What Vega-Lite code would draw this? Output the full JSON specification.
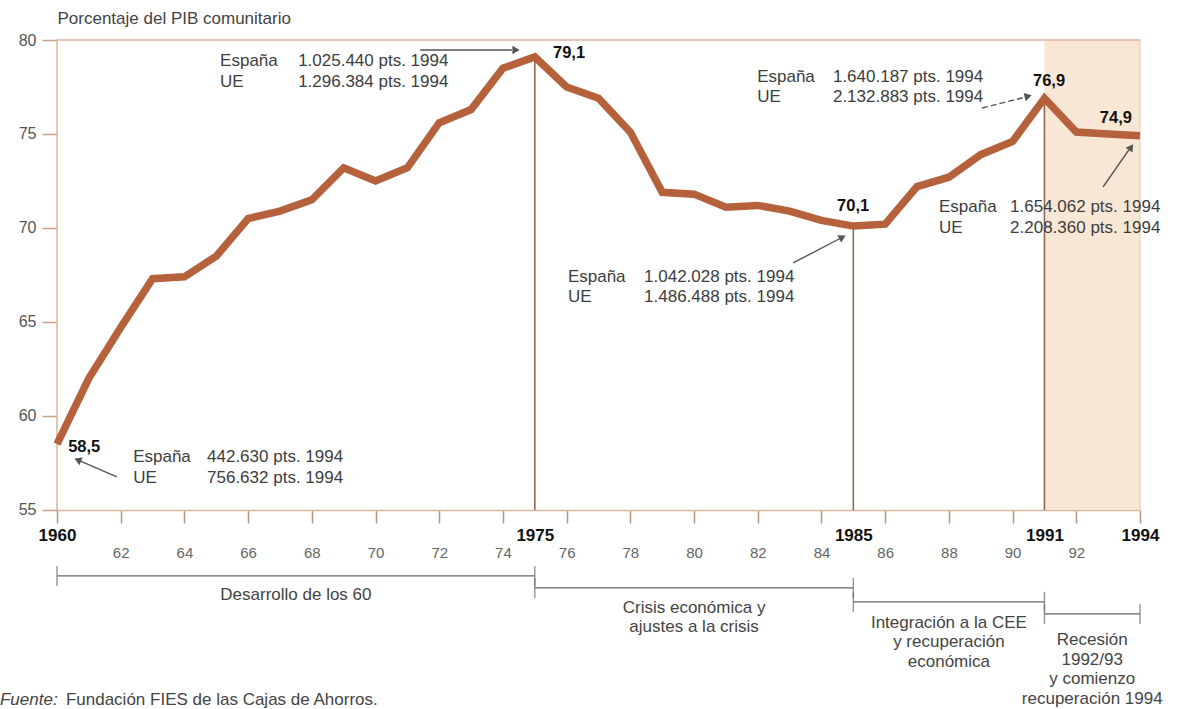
{
  "$schema": "https://vega.github.io/schema/vega-lite/v6.json",
  "width": 1083,
  "height": 669,
  "autosize": {"type": "none"},
  "padding": {"left": 57, "top": 40, "right": 38, "bottom": 0},
  "background": "white",
  "config": {
    "view": {"stroke": null},
    "axis": {"grid": false},
    "font": "Liberation Sans"
  },
  "datasets": {
    "series": [
      {"year": 1960, "value": 58.5}, {"year": 1961, "value": 62.0}, {"year": 1962, "value": 64.7},
      {"year": 1963, "value": 67.3}, {"year": 1964, "value": 67.4}, {"year": 1965, "value": 68.5},
      {"year": 1966, "value": 70.5}, {"year": 1967, "value": 70.9}, {"year": 1968, "value": 71.5},
      {"year": 1969, "value": 73.2}, {"year": 1970, "value": 72.5}, {"year": 1971, "value": 73.2},
      {"year": 1972, "value": 75.6}, {"year": 1973, "value": 76.3}, {"year": 1974, "value": 78.5},
      {"year": 1975, "value": 79.1}, {"year": 1976, "value": 77.5}, {"year": 1977, "value": 76.9},
      {"year": 1978, "value": 75.1}, {"year": 1979, "value": 71.9}, {"year": 1980, "value": 71.8},
      {"year": 1981, "value": 71.1}, {"year": 1982, "value": 71.2}, {"year": 1983, "value": 70.9},
      {"year": 1984, "value": 70.4}, {"year": 1985, "value": 70.1}, {"year": 1986, "value": 70.2},
      {"year": 1987, "value": 72.2}, {"year": 1988, "value": 72.7}, {"year": 1989, "value": 73.9},
      {"year": 1990, "value": 74.6}, {"year": 1991, "value": 76.9}, {"year": 1992, "value": 75.1},
      {"year": 1993, "value": 75.0}, {"year": 1994, "value": 74.9}
    ],
    "shade": [{"year": 1991, "year2": 1994, "value": 55, "value2": 80}],
    "frame": [
      {"kind": "top", "year": 1960, "year2": 1994, "value": 80, "value2": 80},
      {"kind": "left", "year": 1960, "year2": 1960, "value": 55, "value2": 80},
      {"kind": "right", "year": 1994, "year2": 1994, "value": 55, "value2": 80}
    ],
    "periods": [
      {"start": 1960, "end": 1975, "level": 51.49, "mid": 1967.5, "labelY": 50.48, "label": "Desarrollo de los 60"},
      {"start": 1975, "end": 1985, "level": 50.85, "mid": 1980, "labelY": 49.79, "label": "Crisis económica y\najustes a la crisis"},
      {"start": 1985, "end": 1991, "level": 50.11, "mid": 1988, "labelY": 48.99, "label": "Integración a la CEE\ny recuperación\neconómica"},
      {"start": 1991, "end": 1994, "level": 49.47, "mid": 1992.5, "labelY": 48.08, "label": "Recesión\n1992/93\ny comienzo\nrecuperación 1994"}
    ],
    "notes": [
      {"year": 1965.12, "value": 78.88, "text": "España"},
      {"year": 1967.57, "value": 78.88, "text": "1.025.440 pts. 1994"},
      {"year": 1965.12, "value": 77.77, "text": "UE"},
      {"year": 1967.57, "value": 77.77, "text": "1.296.384 pts. 1994"},
      {"year": 1962.39, "value": 57.82, "text": "España"},
      {"year": 1964.71, "value": 57.82, "text": "442.630 pts. 1994"},
      {"year": 1962.39, "value": 56.70, "text": "UE"},
      {"year": 1964.71, "value": 56.70, "text": "756.632 pts. 1994"},
      {"year": 1976.04, "value": 67.39, "text": "España"},
      {"year": 1978.43, "value": 67.39, "text": "1.042.028 pts. 1994"},
      {"year": 1976.04, "value": 66.33, "text": "UE"},
      {"year": 1978.43, "value": 66.33, "text": "1.486.488 pts. 1994"},
      {"year": 1981.98, "value": 78.03, "text": "España"},
      {"year": 1984.36, "value": 78.03, "text": "1.640.187 pts. 1994"},
      {"year": 1981.98, "value": 76.97, "text": "UE"},
      {"year": 1984.36, "value": 76.97, "text": "2.132.883 pts. 1994"},
      {"year": 1987.69, "value": 71.12, "text": "España"},
      {"year": 1989.92, "value": 71.12, "text": "1.654.062 pts. 1994"},
      {"year": 1987.69, "value": 70.0, "text": "UE"},
      {"year": 1989.92, "value": 70.0, "text": "2.208.360 pts. 1994"}
    ],
    "valueLabels": [
      {"year": 1960.35, "value": 58.35, "text": "58,5"},
      {"year": 1975.57, "value": 79.31, "text": "79,1"},
      {"year": 1984.49, "value": 71.17, "text": "70,1"},
      {"year": 1990.64, "value": 77.82, "text": "76,9"},
      {"year": 1992.74, "value": 75.85, "text": "74,9"}
    ],
    "arrows": [
      {"id": 1, "year": 1971.40, "year2": 1974.28, "value": 79.47, "value2": 79.47},
      {"id": 2, "year": 1961.88, "year2": 1960.72, "value": 56.76, "value2": 57.61},
      {"id": 3, "year": 1983.11, "year2": 1984.58, "value": 68.14, "value2": 69.44},
      {"id": 4, "year": 1989.04, "year2": 1990.42, "value": 76.38, "value2": 76.97},
      {"id": 5, "year": 1992.84, "year2": 1993.65, "value": 72.18, "value2": 74.15}
    ],
    "heads": [
      {"id": 1, "year": 1974.41, "value": 79.47},
      {"id": 2, "year": 1960.65, "value": 57.66},
      {"id": 3, "year": 1984.66, "value": 69.51},
      {"id": 4, "year": 1990.49, "value": 77.01},
      {"id": 5, "year": 1993.72, "value": 74.30}
    ],
    "source": [
      {"part": "label", "year": 1958.21, "value": 44.89, "text": "Fuente:"},
      {"part": "body", "year": 1960.28, "value": 44.89, "text": "Fundación FIES de las Cajas de Ahorros."}
    ]
  },
  "layer": [
    {
      "data": {"name": "shade"},
      "mark": {"type": "rect", "fill": "#f9e7d6"},
      "encoding": {
        "x": {"field": "year", "type": "quantitative"},
        "x2": {"field": "year2"},
        "y": {"field": "value", "type": "quantitative"},
        "y2": {"field": "value2"}
      }
    },
    {
      "data": {"name": "frame"},
      "transform": [{"filter": "datum.kind == 'top'"}],
      "mark": {"type": "rule", "color": "#dcb3a8", "strokeWidth": 1.5},
      "encoding": {
        "x": {"field": "year", "type": "quantitative"},
        "x2": {"field": "year2"},
        "y": {"field": "value", "type": "quantitative"}
      }
    },
    {
      "data": {"name": "frame"},
      "transform": [{"filter": "datum.kind == 'left'"}],
      "mark": {"type": "rule", "color": "#d8b69c", "strokeWidth": 1.5},
      "encoding": {
        "x": {"field": "year", "type": "quantitative"},
        "y": {"field": "value", "type": "quantitative"},
        "y2": {"field": "value2"}
      }
    },
    {
      "data": {"name": "frame"},
      "transform": [{"filter": "datum.kind == 'right'"}],
      "mark": {"type": "rule", "color": "#e3cfbf", "strokeWidth": 1.2},
      "encoding": {
        "x": {"field": "year", "type": "quantitative"},
        "y": {"field": "value", "type": "quantitative"},
        "y2": {"field": "value2"}
      }
    },
    {
      "data": {"name": "series"},
      "transform": [{"filter": "datum.year == 1975 || datum.year == 1985 || datum.year == 1991"}],
      "mark": {"type": "rule", "color": "#8c6b56", "strokeWidth": 1.6},
      "encoding": {
        "x": {"field": "year", "type": "quantitative"},
        "y": {"field": "value", "type": "quantitative"},
        "y2": {"datum": 55}
      }
    },
    {
      "data": {"name": "series"},
      "mark": {"type": "line", "color": "#b5613c", "strokeWidth": 7.5, "strokeJoin": "miter"},
      "encoding": {
        "x": {
          "field": "year",
          "type": "quantitative",
          "scale": {"domain": [1960, 1994], "nice": false, "zero": false},
          "axis": {
            "title": null,
            "offset": -199,
            "values": [1960, 1962, 1964, 1966, 1968, 1970, 1972, 1974, 1975, 1976, 1978, 1980, 1982, 1984, 1985, 1986, 1988, 1990, 1991, 1992, 1994],
            "labelExpr": "indexof([1960,1975,1985,1991,1994], datum.value) >= 0 ? toString(datum.value) : substring(toString(datum.value), 2)",
            "labelFontWeight": {"condition": {"test": "indexof([1960,1975,1985,1991,1994], datum.value) >= 0", "value": "bold"}, "value": "normal"},
            "labelFontSize": {"condition": {"test": "indexof([1960,1975,1985,1991,1994], datum.value) >= 0", "value": 17}, "value": 15},
            "labelColor": {"condition": {"test": "indexof([1960,1975,1985,1991,1994], datum.value) >= 0", "value": "#111111"}, "value": "#666666"},
            "labelPadding": {"condition": {"test": "indexof([1960,1975,1985,1991,1994], datum.value) >= 0", "value": 12}, "value": 29},
            "tickOpacity": {"condition": {"test": "indexof([1975,1985,1991], datum.value) >= 0", "value": 0}, "value": 1},
            "labelBaseline": "middle",
            "labelFont": "Liberation Sans",
            "labelOverlap": false,
            "labelFlush": false,
            "tickSize": 13,
            "tickWidth": 1.5,
            "tickColor": "#b8977c",
            "domainColor": "#d8b69c",
            "domainWidth": 1.5,
            "grid": false
          }
        },
        "y": {
          "field": "value",
          "type": "quantitative",
          "scale": {"domain": [44.41, 80], "nice": false, "zero": false},
          "axis": {
            "title": "Porcentaje del PIB comunitario",
            "titleAngle": 0,
            "titleAlign": "left",
            "titleBaseline": "middle",
            "titleX": 0,
            "titleY": -22,
            "titleFont": "Liberation Sans",
            "titleFontSize": 17,
            "titleFontWeight": "normal",
            "titleColor": "#444444",
            "values": [55, 60, 65, 70, 75, 80],
            "domain": false,
            "tickSize": 15,
            "tickWidth": 1.5,
            "tickColor": "#c9a285",
            "labelPadding": 6,
            "labelFontSize": 16,
            "labelColor": "#555555",
            "labelFont": "Liberation Sans",
            "grid": false
          }
        }
      }
    },
    {
      "data": {"name": "periods"},
      "mark": {"type": "rule", "color": "#666666", "strokeWidth": 1.3},
      "encoding": {
        "x": {"field": "start", "type": "quantitative"},
        "x2": {"field": "end"},
        "y": {"field": "level", "type": "quantitative"}
      }
    },
    {
      "data": {"name": "periods"},
      "mark": {"type": "tick", "orient": "vertical", "color": "#666666", "size": 20, "thickness": 1.4},
      "encoding": {
        "x": {"field": "start", "type": "quantitative"},
        "y": {"field": "level", "type": "quantitative"}
      }
    },
    {
      "data": {"name": "periods"},
      "mark": {"type": "tick", "orient": "vertical", "color": "#666666", "size": 20, "thickness": 1.4},
      "encoding": {
        "x": {"field": "end", "type": "quantitative"},
        "y": {"field": "level", "type": "quantitative"}
      }
    },
    {
      "data": {"name": "periods"},
      "mark": {"type": "text", "align": "center", "baseline": "middle", "lineBreak": "\n", "lineHeight": 19.5, "fontSize": 17, "color": "#444444", "font": "Liberation Sans"},
      "encoding": {
        "x": {"field": "mid", "type": "quantitative"},
        "y": {"field": "labelY", "type": "quantitative"},
        "text": {"field": "label"}
      }
    },
    {
      "data": {"name": "notes"},
      "mark": {"type": "text", "align": "left", "baseline": "middle", "fontSize": 17, "color": "#3d3d3d", "font": "Liberation Sans"},
      "encoding": {
        "x": {"field": "year", "type": "quantitative"},
        "y": {"field": "value", "type": "quantitative"},
        "text": {"field": "text"}
      }
    },
    {
      "data": {"name": "valueLabels"},
      "mark": {"type": "text", "align": "left", "baseline": "middle", "fontSize": 16.5, "fontWeight": "bold", "color": "#111111", "font": "Liberation Sans"},
      "encoding": {
        "x": {"field": "year", "type": "quantitative"},
        "y": {"field": "value", "type": "quantitative"},
        "text": {"field": "text"}
      }
    },
    {
      "data": {"name": "arrows"},
      "transform": [{"filter": "datum.id != 4"}],
      "mark": {"type": "rule", "color": "#555555", "strokeWidth": 1.4},
      "encoding": {
        "x": {"field": "year", "type": "quantitative"},
        "x2": {"field": "year2"},
        "y": {"field": "value", "type": "quantitative"},
        "y2": {"field": "value2"}
      }
    },
    {
      "data": {"name": "arrows"},
      "transform": [{"filter": "datum.id == 4"}],
      "mark": {"type": "rule", "color": "#555555", "strokeWidth": 1.4, "strokeDash": [6, 3]},
      "encoding": {
        "x": {"field": "year", "type": "quantitative"},
        "x2": {"field": "year2"},
        "y": {"field": "value", "type": "quantitative"},
        "y2": {"field": "value2"}
      }
    },
    {
      "data": {"name": "heads"},
      "transform": [{"filter": "datum.id == 1"}],
      "mark": {"type": "point", "shape": "triangle-up", "filled": true, "size": 70, "color": "#555555", "opacity": 1, "angle": 90},
      "encoding": {
        "x": {"field": "year", "type": "quantitative"},
        "y": {"field": "value", "type": "quantitative"}
      }
    },
    {
      "data": {"name": "heads"},
      "transform": [{"filter": "datum.id == 2"}],
      "mark": {"type": "point", "shape": "triangle-up", "filled": true, "size": 70, "color": "#555555", "opacity": 1, "angle": 293},
      "encoding": {
        "x": {"field": "year", "type": "quantitative"},
        "y": {"field": "value", "type": "quantitative"}
      }
    },
    {
      "data": {"name": "heads"},
      "transform": [{"filter": "datum.id == 3"}],
      "mark": {"type": "point", "shape": "triangle-up", "filled": true, "size": 70, "color": "#555555", "opacity": 1, "angle": 62.6},
      "encoding": {
        "x": {"field": "year", "type": "quantitative"},
        "y": {"field": "value", "type": "quantitative"}
      }
    },
    {
      "data": {"name": "heads"},
      "transform": [{"filter": "datum.id == 4"}],
      "mark": {"type": "point", "shape": "triangle-up", "filled": true, "size": 70, "color": "#555555", "opacity": 1, "angle": 75.7},
      "encoding": {
        "x": {"field": "year", "type": "quantitative"},
        "y": {"field": "value", "type": "quantitative"}
      }
    },
    {
      "data": {"name": "heads"},
      "transform": [{"filter": "datum.id == 5"}],
      "mark": {"type": "point", "shape": "triangle-up", "filled": true, "size": 70, "color": "#555555", "opacity": 1, "angle": 35.2},
      "encoding": {
        "x": {"field": "year", "type": "quantitative"},
        "y": {"field": "value", "type": "quantitative"}
      }
    },
    {
      "data": {"name": "source"},
      "transform": [{"filter": "datum.part == 'label'"}],
      "mark": {"type": "text", "align": "left", "baseline": "middle", "fontSize": 17, "fontStyle": "italic", "color": "#444444", "font": "Liberation Sans"},
      "encoding": {
        "x": {"field": "year", "type": "quantitative"},
        "y": {"field": "value", "type": "quantitative"},
        "text": {"field": "text"}
      }
    },
    {
      "data": {"name": "source"},
      "transform": [{"filter": "datum.part == 'body'"}],
      "mark": {"type": "text", "align": "left", "baseline": "middle", "fontSize": 17, "color": "#444444", "font": "Liberation Sans"},
      "encoding": {
        "x": {"field": "year", "type": "quantitative"},
        "y": {"field": "value", "type": "quantitative"},
        "text": {"field": "text"}
      }
    }
  ]
}
